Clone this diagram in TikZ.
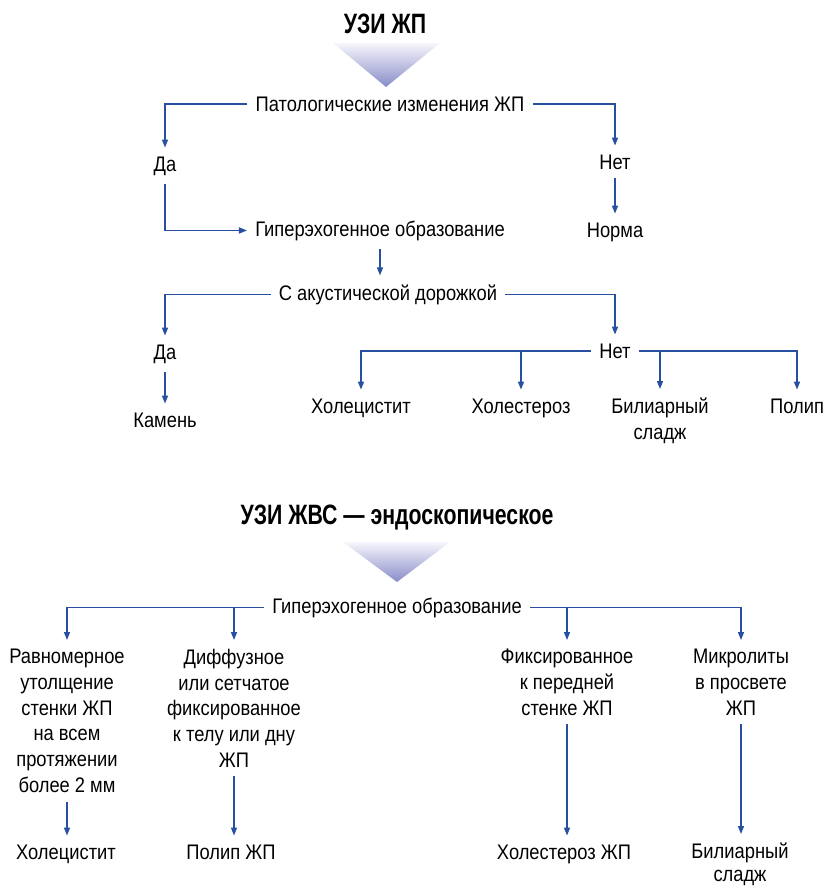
\documentclass[tikz,border=0pt]{standalone}
\usepackage{fontspec}
\setmainfont{Liberation Sans}[FakeStretch=0.87]
\newfontfamily\headfont{Liberation Sans}[FakeStretch=0.76]
\usetikzlibrary{arrows.meta, positioning}
\definecolor{linkblue}{RGB}{40,80,160}
\definecolor{trilight}{RGB}{246,246,252}
\definecolor{tridark}{RGB}{136,140,200}

\begin{document}
\begin{tikzpicture}[
  x=0.75pt, y=-0.75pt,
  every node/.style={inner xsep=6pt, inner ysep=6.5pt, font=\fontsize{15.8pt}{19.35pt}\selectfont},
  lbl/.style={anchor=base},
  multi/.style={anchor=north, align=center},
  ttl/.style={anchor=base, font=\fontsize{21pt}{25pt}\headfont\bfseries},
  link/.style={draw=linkblue, line width=1.1pt, -{Triangle[length=6pt, width=4.5pt]}},
  funnel/.style={top color=trilight, bottom color=tridark, draw=none}
]
\useasboundingbox (0,0) rectangle (825,886);

\shade[funnel] (333,43) -- (440,43) -- (386,87) -- cycle;
\shade[funnel] (343,542) -- (450,542) -- (397,582) -- cycle;

\node[ttl] (title1) at (385,33) {УЗИ ЖП};
\node[lbl] (pat) at (390,111) {Патологические изменения ЖП};
\node[lbl] (yes1) at (165,171) {Да};
\node[lbl] (no1) at (615,169) {Нет};
\node[lbl] (norm) at (615,237) {Норма};
\node[lbl] (hyper1) at (380,236) {Гиперэхогенное образование};
\node[lbl] (shadow) at (388,300) {С акустической дорожкой};
\node[lbl] (yes2) at (165,359) {Да};
\node[lbl] (stone) at (165,427) {Камень};
\node[lbl] (no2) at (615,358) {Нет};
\node[lbl] (chol1) at (361,413) {Холецистит};
\node[lbl] (chst1) at (521,413) {Холестероз};
\node[multi] (sludge1) at (660,389) {Билиарный\\сладж};
\node[lbl] (polyp1) at (797,413) {Полип};

\draw[link] (pat.west) -| (yes1.north);
\draw[link] (pat.east) -| (no1.north);
\draw[link] (no1.south) -- (norm.north);
\draw[link] (yes1.south) |- (hyper1.west);
\draw[link] (hyper1.south) -- (hyper1.south |- shadow.north);
\draw[link] (shadow.west) -| (yes2.north);
\draw[link] (yes2.south) -- (stone.north);
\draw[link] (shadow.east) -| (no2.north);
\draw[link] (no2.west) -| (chol1.north);
\draw[link] (chst1.north |- no2.west) -- (chst1.north);
\draw[link] (no2.east) -| (polyp1.north);
\draw[link] (sludge1.north |- no2.east) -- (sludge1.north);

\node[ttl] (title2) at (397,524) {УЗИ ЖВС — эндоскопическое};
\node[lbl] (hyper2) at (397,613) {Гиперэхогенное образование};
\node[multi] (wall) at (67,640) {Равномерное\\утолщение\\стенки ЖП\\на всем\\протяжении\\более 2 мм};
\node[multi] (diffuse) at (234,640) {Диффузное\\или сетчатое\\фиксированное\\к телу или дну\\ЖП};
\node[multi] (fixed) at (567,640) {Фиксированное\\к передней\\стенке ЖП};
\node[multi] (micro) at (741,640) {Микролиты\\в просвете\\ЖП};
\node[lbl] (chol2) at (66,859) {Холецистит};
\node[lbl] (polyp2) at (231,859) {Полип ЖП};
\node[lbl] (chst2) at (564,859) {Холестероз ЖП};
\node[multi] (sludge2) at (740,834) {Билиарный\\[-2.5pt]сладж};

\draw[link] (hyper2.west) -| (wall.north);
\draw[link] (diffuse.north |- hyper2.west) -- (diffuse.north);
\draw[link] (hyper2.east) -| (micro.north);
\draw[link] (fixed.north |- hyper2.east) -- (fixed.north);
\draw[link] (wall.south) -- (wall.south |- chol2.north);
\draw[link] (diffuse.south) -- (diffuse.south |- polyp2.north);
\draw[link] (fixed.south) -- (fixed.south |- chst2.north);
\draw[link] (micro.south) -- (micro.south |- sludge2.north);
\end{tikzpicture}
\end{document}
